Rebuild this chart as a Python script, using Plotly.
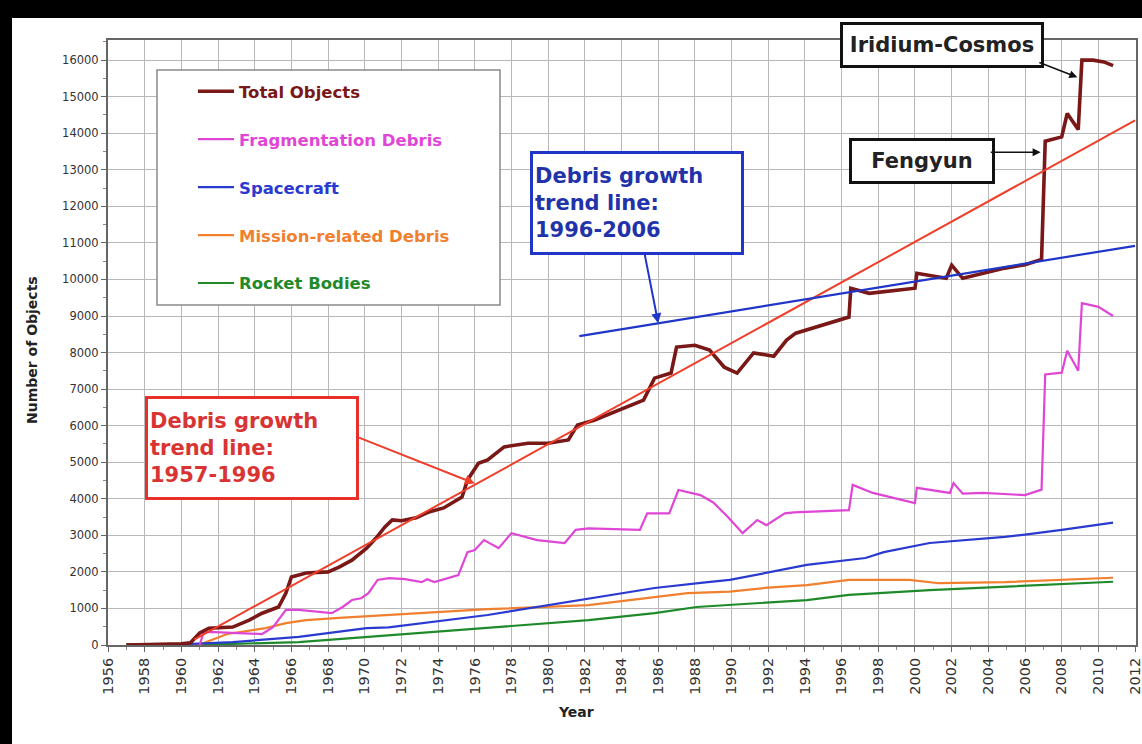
import plotly.graph_objects as go

# ---- catalogued objects in Earth orbit (count vs. year) ----
total_years = [1957.0, 1958.0, 1959.0, 1960.0, 1960.5, 1961.0, 1961.5, 1962.0, 1962.8, 1963.7,
               1964.4, 1965.3, 1965.7, 1966.0, 1966.8, 1968.0, 1968.6, 1969.3, 1969.8, 1970.1,
               1970.6, 1971.1, 1971.5, 1972.0, 1972.8, 1973.5, 1974.3, 1975.3, 1975.6, 1976.2,
               1976.7, 1977.6, 1978.9, 1980.0, 1981.1, 1981.6, 1982.5, 1983.9, 1985.2, 1985.8,
               1986.7, 1987.0, 1988.0, 1988.8, 1989.6, 1990.3, 1991.2, 1992.3, 1993.0, 1993.5,
               1995.3, 1996.4, 1996.5, 1997.5, 2000.0, 2000.1, 2001.7, 2002.0, 2002.6, 2004.9,
               2006.0, 2006.9, 2007.1, 2008.0, 2008.3, 2008.9, 2009.1, 2009.7, 2010.3, 2010.8]
total_vals = [0, 10, 20, 30, 60, 330, 460, 480, 490, 680,
              870, 1040, 1420, 1860, 1970, 2000, 2130, 2320, 2510, 2650,
              2920, 3230, 3420, 3400, 3480, 3640, 3750, 4050, 4510, 4970,
              5060, 5420, 5520, 5520, 5610, 6020, 6150, 6430, 6700, 7300,
              7440, 8150, 8200, 8070, 7600, 7440, 7990, 7900, 8340, 8530,
              8800, 8970, 9760, 9620, 9760, 10170, 10030, 10390, 10030, 10310,
              10400, 10550, 13780, 13900, 14540, 14100, 16000, 16000, 15950, 15850]

frag_years = [1961.0, 1961.2, 1961.5, 1963.2, 1964.4, 1965.0, 1965.3, 1965.7, 1966.4, 1967.5,
              1968.2, 1968.8, 1969.3, 1969.8, 1970.2, 1970.7, 1971.3, 1972.2, 1973.1, 1973.4,
              1973.8, 1975.1, 1975.6, 1976.0, 1976.5, 1977.3, 1978.0, 1979.4, 1980.9, 1981.5,
              1982.2, 1985.0, 1985.4, 1986.6, 1987.1, 1988.3, 1989.0, 1989.8, 1990.6, 1991.4,
              1991.9, 1992.9, 1993.4, 1996.4, 1996.6, 1997.7, 2000.0, 2000.1, 2001.9, 2002.1,
              2002.6, 2003.7, 2006.0, 2006.9, 2007.1, 2008.0, 2008.3, 2008.9, 2009.1, 2010.0,
              2010.8]
frag_vals = [0, 330, 360, 330, 300, 490, 680, 960, 960, 900,
             870, 1040, 1230, 1280, 1420, 1780, 1830, 1800, 1720, 1800,
             1720, 1910, 2540, 2600, 2870, 2650, 3060, 2870, 2790, 3150,
             3190, 3150, 3600, 3600, 4240, 4100, 3900, 3500, 3060, 3420,
             3280, 3600, 3630, 3690, 4380, 4160, 3880, 4300, 4160, 4430,
             4140, 4160, 4100, 4250, 7400, 7450, 8050, 7500, 9350, 9250,
             9000]

sc_years = [1957.5, 1960.0, 1962.8, 1966.4, 1970.1, 1971.3, 1976.7, 1979.4, 1982.2, 1985.8,
            1988.7, 1989.9, 1994.1, 1997.3, 1998.3, 2000.8, 2004.9, 2006.0, 2008.0, 2010.8]
sc_vals = [0, 20, 80, 220, 460, 480, 820, 1040, 1280, 1560,
           1720, 1780, 2190, 2380, 2540, 2790, 2960, 3020, 3150, 3350]

mr_years = [1957.5, 1961.0, 1962.5, 1964.6, 1965.7, 1966.8, 1968.6, 1971.3, 1976.7, 1982.2,
            1985.8, 1987.6, 1989.9, 1991.8, 1994.1, 1996.4, 1999.7, 2001.3, 2004.9, 2008.0,
            2010.8]
mr_vals = [0, 10, 300, 460, 600, 680, 740, 820, 980, 1090,
           1310, 1420, 1460, 1560, 1640, 1780, 1780, 1690, 1720, 1780,
           1840]

rb_years = [1957.0, 1960.0, 1962.8, 1966.4, 1970.1, 1971.3, 1976.7, 1982.2, 1985.8, 1988.1,
            1994.1, 1996.4, 2000.8, 2004.9, 2008.0, 2010.8]
rb_vals = [20, 30, 30, 80, 220, 270, 490, 680, 870, 1040,
           1230, 1370, 1500, 1590, 1650, 1730]

# fitted debris growth trend lines
trend_early_years = [1960.7, 2012.0]
trend_early_vals = [150, 14350]
trend_late_years = [1981.7, 2012.0]
trend_late_vals = [8450, 10920]

x_ticks = list(range(1956, 2013, 2))

C_TOTAL = "#7a1717"
C_FRAG = "#e046d6"
C_SC = "#2a3ad0"
C_MR = "#f07f2e"
C_RB = "#1f8a2a"
C_RED = "#ef3f2a"
C_BLUE = "#1f36c8"

FONT = "DejaVu Sans"

# page geometry (pixels)
W, H = 1142, 744
ML, MR, MT, MB = 108, 6, 40, 99
PW, PH = W - ML - MR, H - MT - MB


def px(xp):
    """horizontal page pixel -> paper fraction"""
    return (xp - ML) / PW


def py(yp):
    """vertical page pixel (from top) -> paper fraction"""
    return (H - MB - yp) / PH


def legend_name(text, color):
    return f'<span style="color:{color}"><b>{text}</b></span>'


fig = go.Figure()

series = [
    ("Rocket Bodies", rb_years, rb_vals, C_RB, 2.2, 5),
    ("Mission-related Debris", mr_years, mr_vals, C_MR, 2.2, 4),
    ("Spacecraft", sc_years, sc_vals, C_SC, 2.2, 3),
    ("Fragmentation Debris", frag_years, frag_vals, C_FRAG, 2.2, 2),
    ("Total Objects", total_years, total_vals, C_TOTAL, 3.6, 1),
]
for name, xs, ys, col, w, rank in series:
    fig.add_trace(go.Scatter(
        x=xs, y=ys, mode="lines", name=legend_name(name, col),
        line=dict(color=col, width=w), legendrank=rank, legendgroup=name,
    ))

fig.add_trace(go.Scatter(x=trend_early_years, y=trend_early_vals, mode="lines",
                         line=dict(color=C_RED, width=2), showlegend=False))
fig.add_trace(go.Scatter(x=trend_late_years, y=trend_late_vals, mode="lines",
                         line=dict(color=C_BLUE, width=2.2), showlegend=False))

# legend frame
fig.add_shape(type="rect", xref="paper", yref="paper", x0=px(157), x1=px(500), y0=py(305), y1=py(70),
              line=dict(color="#8a8a8a", width=1.5), fillcolor="white", layer="above")

# black edges around the page
fig.add_shape(type="rect", xref="paper", yref="paper", x0=px(-100), x1=px(W + 20), y0=py(18), y1=py(-50),
              line=dict(width=0), fillcolor="black", layer="above")
fig.add_shape(type="rect", xref="paper", yref="paper", x0=px(-100), x1=px(12), y0=py(H + 50), y1=py(-50),
              line=dict(width=0), fillcolor="black", layer="above")

box_font = dict(family=FONT, size=21)

# trend line callouts
fig.add_annotation(xref="paper", yref="paper", x=px(145), y=py(396),
                   xanchor="left", yanchor="top", showarrow=False, align="left",
                   text="<b>Debris growth<br>trend line:<br>1957-1996</b>",
                   font=dict(color="#d93434", **box_font), width=204, height=94,
                   bordercolor="#e8302a", borderwidth=3, borderpad=2, bgcolor="white")
fig.add_annotation(x=1976.0, y=4420, ax=1969.6, ay=5690, xref="x", yref="y", axref="x", ayref="y",
                   text="", showarrow=True, arrowhead=2, arrowsize=1, arrowwidth=2,
                   arrowcolor=C_RED)

fig.add_annotation(xref="paper", yref="paper", x=px(530), y=py(151),
                   xanchor="left", yanchor="top", showarrow=False, align="left",
                   text="<b>Debris growth<br>trend line:<br>1996-2006</b>",
                   font=dict(color="#2233aa", **box_font), width=204, height=94,
                   bordercolor=C_BLUE, borderwidth=3, borderpad=2, bgcolor="white")
fig.add_annotation(x=1986.0, y=8800, ax=1985.25, ay=10720, xref="x", yref="y", axref="x", ayref="y",
                   text="", showarrow=True, arrowhead=2, arrowsize=1, arrowwidth=2,
                   arrowcolor=C_BLUE)

# event callouts
fig.add_annotation(xref="paper", yref="paper", x=px(840), y=py(22),
                   xanchor="left", yanchor="top", showarrow=False,
                   text="<b>Iridium-Cosmos</b>", font=dict(color="#222222", **box_font),
                   width=194, height=36, bordercolor="#111111", borderwidth=3, borderpad=2,
                   bgcolor="white")
fig.add_annotation(x=2008.85, y=15530, ax=2006.7, ay=15950, xref="x", yref="y", axref="x", ayref="y",
                   text="", showarrow=True, arrowhead=2, arrowsize=1, arrowwidth=1.6,
                   arrowcolor="#111111")

fig.add_annotation(xref="paper", yref="paper", x=px(849), y=py(138),
                   xanchor="left", yanchor="top", showarrow=False,
                   text="<b>Fengyun</b>", font=dict(color="#222222", **box_font),
                   width=136, height=36, bordercolor="#111111", borderwidth=3, borderpad=2,
                   bgcolor="white")
fig.add_annotation(x=2006.85, y=13480, ax=2004.05, ay=13480, xref="x", yref="y", axref="x", ayref="y",
                   text="", showarrow=True, arrowhead=2, arrowsize=1, arrowwidth=1.6,
                   arrowcolor="#111111")

# axis titles
fig.add_annotation(xref="paper", yref="paper", x=px(576), y=py(722),
                   text="<b>Year</b>", showarrow=False, font=dict(family=FONT, size=14, color="#222"))
fig.add_annotation(xref="paper", yref="paper", x=px(22), y=py(350),
                   text="<b>Number of Objects</b>", textangle=-90, showarrow=False,
                   font=dict(family=FONT, size=14, color="#222"))

fig.update_layout(
    width=W, height=H,
    margin=dict(l=ML, r=MR, t=MT, b=MB, autoexpand=False),
    paper_bgcolor="white", plot_bgcolor="white",
    font=dict(family=FONT, color="#333333"),
    showlegend=True,
    legend=dict(x=px(193), y=py(74), xanchor="left", yanchor="top",
                bgcolor="rgba(0,0,0,0)", borderwidth=0, tracegroupgap=23.5, itemwidth=36,
                traceorder="grouped", font=dict(family=FONT, size=16.5)),
)
fig.update_xaxes(
    range=[1956, 2012.05], tickmode="array", tickvals=x_ticks, ticktext=[str(t) for t in x_ticks],
    tickangle=-90, tickfont=dict(family=FONT, size=14.5, color="#333"),
    ticklabeloverflow="allow", automargin=False,
    showgrid=True, gridcolor="#b8b8b8", gridwidth=1,
    showline=True, linecolor="#666666", linewidth=2, mirror=True,
    ticks="outside", ticklen=5, tickcolor="#666",
    minor=dict(dtick=1, tick0=1956, ticks="outside", ticklen=3, tickcolor="#888", showgrid=False),
    zeroline=False,
)
fig.update_yaxes(
    range=[0, 16550], tick0=0, dtick=1000, tickformat="d", automargin=False,
    tickfont=dict(family=FONT, size=11.5, color="#333"),
    showgrid=True, gridcolor="#b8b8b8", gridwidth=1,
    showline=True, linecolor="#666666", linewidth=2, mirror=True,
    ticks="outside", ticklen=5, tickcolor="#666",
    minor=dict(dtick=500, ticks="outside", ticklen=3, tickcolor="#888", showgrid=False),
    zeroline=False,
)

fig.write_html("out.html")
